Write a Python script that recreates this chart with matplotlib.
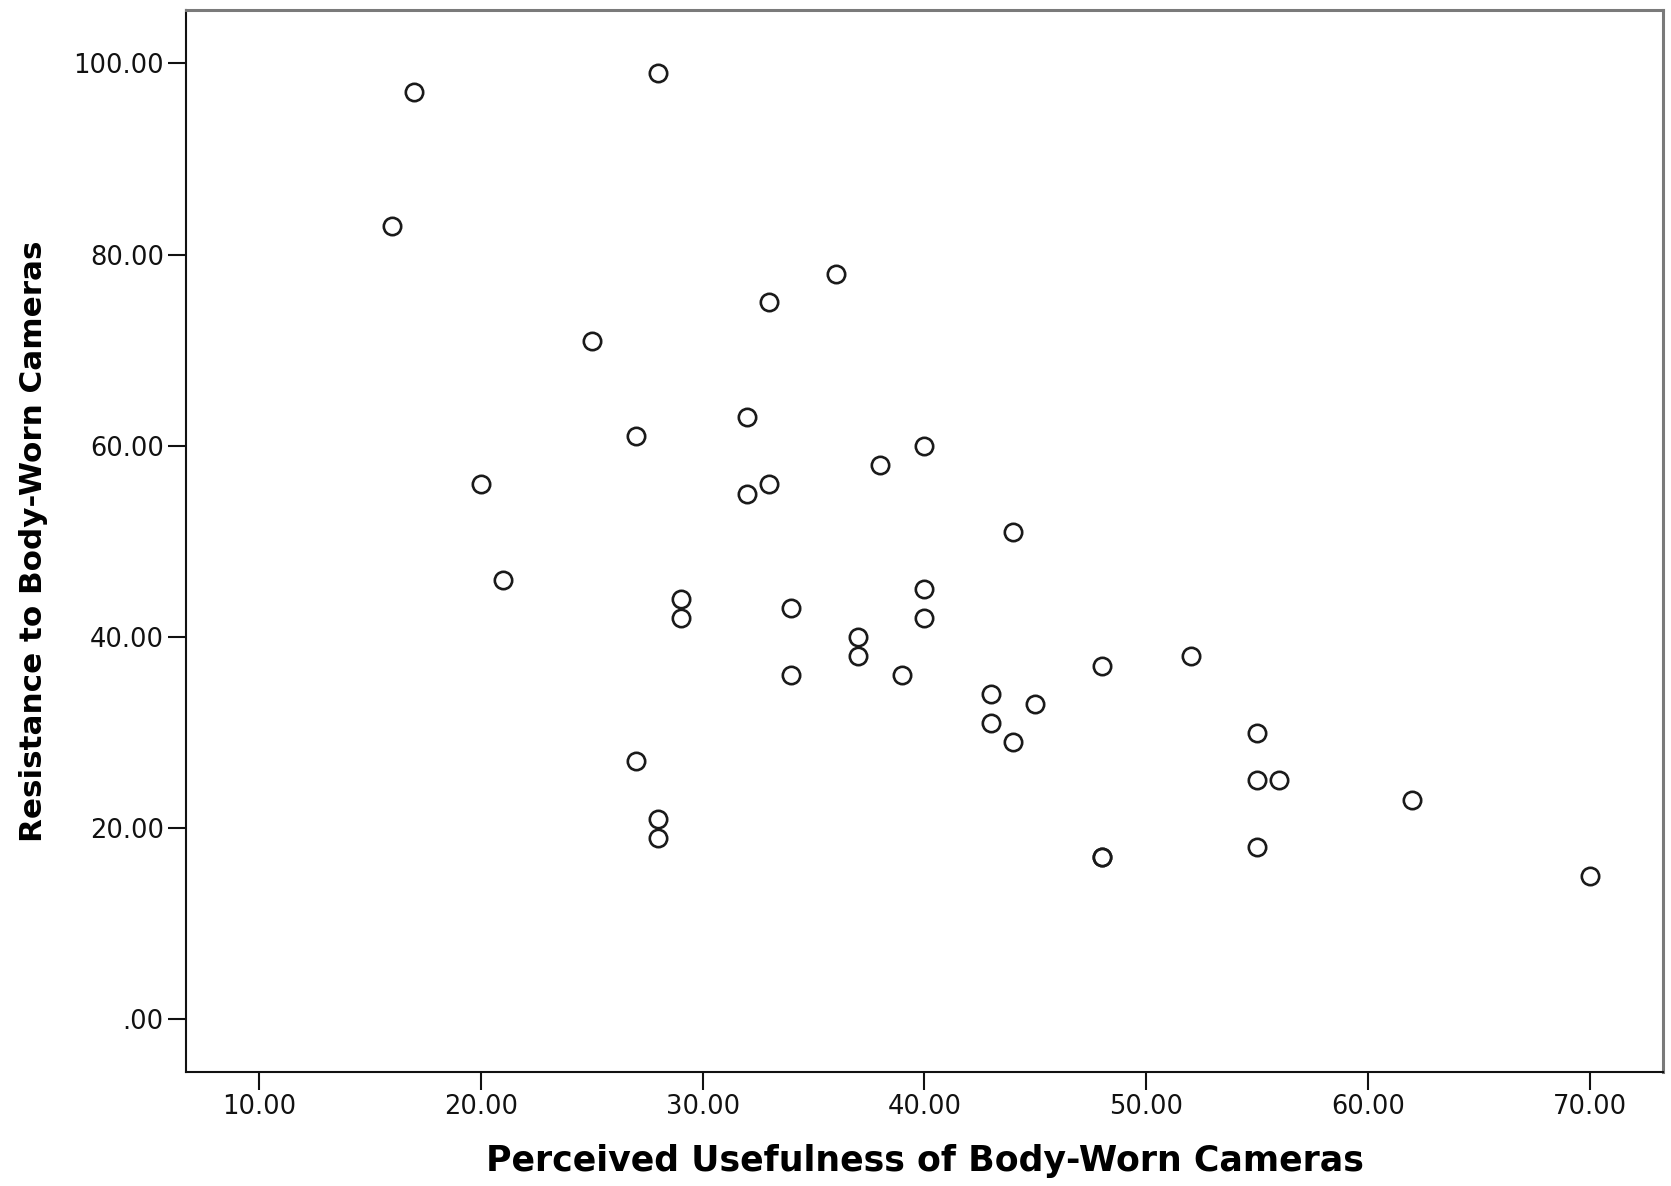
import numpy as np
import matplotlib.pyplot as plt

# Perceived usefulness (x) vs resistance (y)
usefulness = [17, 28, 16, 36, 33, 25, 32, 27, 40, 38, 20, 33, 32, 44, 21,
              29, 40, 29, 40, 34, 37, 37, 52, 34, 39, 48, 43, 45, 43, 44,
              55, 27, 55, 56, 62, 28, 28, 48, 48, 55, 70]
resistance = [97, 99, 83, 78, 75, 71, 63, 61, 60, 58, 56, 56, 55, 51, 46,
              44, 45, 42, 42, 43, 40, 38, 38, 36, 36, 37, 34, 33, 31, 29,
              30, 27, 25, 25, 23, 21, 19, 17, 17, 18, 15]

x_ticks = [10, 20, 30, 40, 50, 60, 70]
y_ticks = [0, 20, 40, 60, 80, 100]

plt.rcParams['font.family'] = ['DejaVu Sans']

fig = plt.figure(figsize=(16.71, 11.86), dpi=100)
ax = fig.add_axes([0.1113, 0.0961, 0.8839, 0.8955])

ax.plot(usefulness, resistance, linestyle='none', marker='o', markersize=12.5,
        markerfacecolor='none', markeredgecolor='#1a1a1a', markeredgewidth=1.9)

ax.set_xlim(6.7, 73.3)
ax.set_ylim(-5.5, 105.6)
ax.set_xticks(x_ticks)
ax.set_yticks(y_ticks)
ax.set_xticklabels([f'{v:.2f}' for v in x_ticks])
ax.set_yticklabels(['.00' if v == 0 else f'{v:.2f}' for v in y_ticks])

ax.tick_params(axis='both', direction='out', length=13, width=1.5,
               labelsize=18.5, colors='#111111', pad=3)

for side in ['left', 'bottom']:
    ax.spines[side].set_color('#111111')
    ax.spines[side].set_linewidth(1.5)
for side in ['top', 'right']:
    ax.spines[side].set_color('#7a7a7a')
    ax.spines[side].set_linewidth(2.2)

ax.set_xlabel('Perceived Usefulness of Body-Worn Cameras', fontsize=25,
              fontweight='bold', labelpad=17)
ax.set_ylabel('Resistance to Body-Worn Cameras', fontsize=22.3,
              fontweight='bold', labelpad=18)

fig.savefig('out.png', dpi=100)
